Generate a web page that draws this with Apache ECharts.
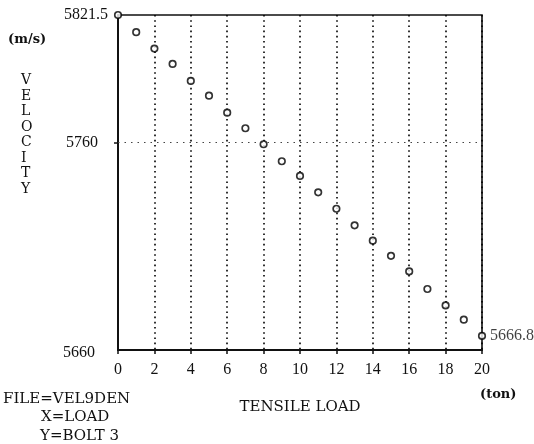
<!DOCTYPE html>
<html>
<head>
<meta charset="utf-8">
<script src="https://cdn.jsdelivr.net/npm/echarts@6/dist/echarts.min.js"></script>
<style>
    html, body { margin: 0; padding: 0; background: #fff; }
    #main { width: 534px; height: 444px; }
</style>
</head>
<body>
<div id="main"></div>
<script>
    // 数据
    var loads = [0, 1, 2, 3, 4, 5, 6, 7, 8, 9, 10, 11, 12, 13, 14, 15, 16, 17, 18, 19, 20];
    var velocity = [5821.5, 5813.2, 5805.3, 5797.9, 5789.7, 5782.6, 5774.4, 5766.9, 5759.2, 5751.0,
        5743.9, 5736.0, 5728.1, 5720.1, 5712.7, 5705.4, 5697.9, 5689.4, 5681.5, 5674.6, 5666.8];
    var yTicks = [5660, 5760, 5821.5];
    var refLine = 5760;
    var xMin = 0, xMax = 20, xStep = 2;
    var yMin = 5660, yMax = 5821.5;

    var points = loads.map(function (x, i) { return [x, velocity[i]]; });
    var numFont = '"Liberation Serif", "Times New Roman", serif';
    var txtFont = '"DejaVu Serif", serif';

    var myChart = echarts.init(document.getElementById('main'));
    var option = {
        backgroundColor: '#fff',
        animation: false,
        grid: {
            left: 118, right: 52, top: 15, bottom: 94,
            show: true, borderColor: '#111', borderWidth: 1.6, backgroundColor: 'transparent'
        },
        xAxis: {
            type: 'value',
            min: xMin, max: xMax, interval: xStep,
            name: 'TENSILE LOAD',
            nameLocation: 'middle',
            nameGap: 50,
            nameTextStyle: { fontFamily: txtFont, fontSize: 15, color: '#111' },
            axisLine: { lineStyle: { color: '#111', width: 2 } },
            axisTick: { show: true, length: 4, lineStyle: { color: '#111', width: 1.5 } },
            axisLabel: { fontFamily: numFont, fontSize: 16, color: '#111', margin: 12 },
            splitLine: { show: true, lineStyle: { color: '#000', width: 1.6, type: [1.6, 3.6] } }
        },
        yAxis: {
            type: 'value',
            min: yMin, max: yMax,
            axisLine: { show: true, lineStyle: { color: '#111', width: 2 } },
            axisTick: { show: true, customValues: [refLine], length: 4, lineStyle: { color: '#111', width: 1.5 } },
            axisLabel: {
                customValues: yTicks,
                margin: 10,
                fontFamily: numFont, fontSize: 16, color: '#111',
                formatter: function (v) {
                    if (v === yMax) return '{a|' + v + '}';
                    if (v === refLine) return '{b|' + v + '}';
                    return '{c|' + v + '}';
                },
                rich: {
                    a: { fontFamily: numFont, fontSize: 16, color: '#111' },
                    b: { fontFamily: numFont, fontSize: 16, color: '#111', padding: [0, 10, 0, 0] },
                    c: { fontFamily: numFont, fontSize: 16, color: '#111', padding: [6, 13, 0, 0] }
                }
            },
            splitLine: { show: false }
        },
        graphic: [
            { type: 'text', left: 8, top: 33, style: { text: '(m/s)', font: 'bold 13px ' + txtFont, fill: '#111' } },
            { type: 'text', left: 21, top: 73, style: { text: 'VELOCITY'.split('').join('\n'), font: '14px ' + txtFont, fill: '#111', lineHeight: 15.5, align: 'center', width: 14 } },
            { type: 'text', left: 480, top: 388, style: { text: '(ton)', font: 'bold 13px ' + txtFont, fill: '#111' } },
            { type: 'text', left: 3, top: 392, style: { text: 'FILE=VEL9DEN', font: '15px ' + txtFont, fill: '#111' } },
            { type: 'text', left: 41, top: 410, style: { text: 'X=LOAD', font: '15px ' + txtFont, fill: '#111' } },
            { type: 'text', left: 40, top: 429, style: { text: 'Y=BOLT 3', font: '15px ' + txtFont, fill: '#111' } }
        ],
        series: [{
            type: 'scatter',
            data: points,
            symbol: 'circle',
            symbolSize: 6.5,
            clip: false,
            itemStyle: { color: '#fff', borderColor: '#000', borderWidth: 1.7 },
            label: {
                show: true,
                position: 'right',
                distance: 4,
                fontFamily: numFont, fontSize: 16, color: '#111',
                formatter: function (p) { return p.dataIndex === points.length - 1 ? String(p.value[1].toFixed(1)) : ''; }
            },
            markLine: {
                silent: true,
                symbol: 'none',
                label: { show: false },
                lineStyle: { color: '#444', width: 1.2, type: [1.5, 5] },
                data: [{ yAxis: refLine }]
            }
        }]
    };
    myChart.setOption(option);
</script>
</body>
</html>
